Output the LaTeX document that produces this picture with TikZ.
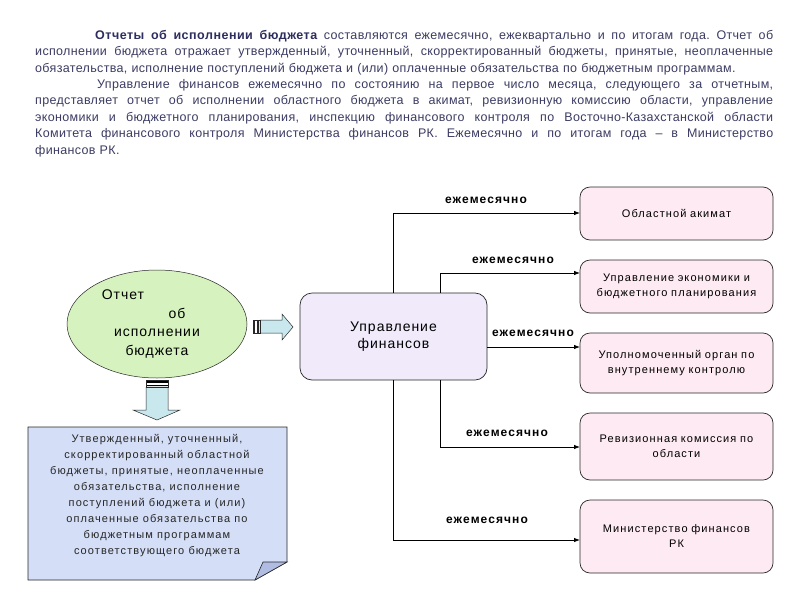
\documentclass[tikz,border=0pt]{standalone}
\usepackage{fontspec}
\setmainfont{Liberation Sans}
\newfontfamily\spfont[LetterSpace=2.7]{Liberation Sans}
\newfontfamily\spbold[LetterSpace=4]{Liberation Sans Bold}
\newfontfamily\boxfont[LetterSpace=10]{Liberation Sans}
\newfontfamily\midfont[LetterSpace=7]{Liberation Sans}
\newfontfamily\lblfont[LetterSpace=9]{Liberation Sans Bold}
\usetikzlibrary{arrows.meta,shapes.geometric}
\definecolor{txtcol}{RGB}{60,60,100}
\definecolor{boldcol}{RGB}{45,45,95}
\definecolor{pinkfill}{RGB}{253,234,242}
\definecolor{lavfill}{RGB}{240,234,250}
\definecolor{greenfill}{RGB}{214,242,190}
\definecolor{notefill}{RGB}{212,222,246}
\definecolor{foldfill}{RGB}{176,188,226}
\definecolor{arrowfill}{RGB}{200,232,238}
\definecolor{edgecol}{RGB}{40,40,40}
% justified line: words separated by stretchable glue
\def\jlA#1 #2\jlend{#1\if\relax\detokenize{#2}\relax\else\hskip 3.5pt plus 1fil\relax\jlA#2\jlend\fi}
\newcommand\jline[1]{\makebox[738pt][s]{\jlA#1 \jlend}}
\newcommand\bw[1]{{\spbold\color{boldcol}#1}}
\begin{document}
\begin{tikzpicture}[x=1pt,y=-1pt,
  toptext/.style={inner sep=0pt, text width=738pt, align=left, text=txtcol,
    font={\spfont\fontsize{12.5}{16.4}\selectfont}},
  rbox/.style={draw=edgecol, line width=0.7pt, rounded corners=10pt, fill=pinkfill,
    minimum width=193pt, text width=180pt, align=center, inner sep=0pt,
    font=\boxfont\fontsize{11}{15}\selectfont},
  finbox/.style={draw=edgecol, line width=0.7pt, rounded corners=12pt, fill=lavfill,
    minimum width=187pt, minimum height=87pt, align=center,
    font=\midfont\fontsize{14}{17}\selectfont},
  ovalnode/.style={ellipse, draw=edgecol, line width=0.5pt, fill=greenfill,
    minimum width=180pt, minimum height=108pt, inner sep=0pt, align=center,
    font=\midfont\fontsize{14}{18.5}\selectfont},
  conn/.style={draw=black, line width=0.8pt, -{Latex[length=6pt,width=4.5pt]}},
  freq/.style={font=\lblfont\fontsize{12}{14}\selectfont, inner sep=0pt},
  notetext/.style={inner sep=0pt, align=center, text=black!85,
    font=\boxfont\fontsize{11}{16}\selectfont},
  blockarrow/.style={draw=edgecol, line width=0.5pt, fill=arrowfill}
]
\useasboundingbox (0,0) rectangle (800,600);
\fill[white] (0,0) rectangle (800,600);

% intro text
\node[toptext, anchor=north west] (intro) at (35,30) {%
\jline{\hspace*{60pt}\bw{Отчеты} \bw{об} \bw{исполнении} \bw{бюджета} составляются ежемесячно, ежеквартально и по итогам года. Отчет об}\\
\jline{исполнении бюджета отражает утвержденный, уточненный, скорректированный бюджеты, принятые, неоплаченные}\\
обязательства, исполнение поступлений бюджета и (или) оплаченные обязательства по бюджетным программам.\\
\jline{\hspace*{62pt}Управление финансов ежемесячно по состоянию на первое число месяца, следующего за отчетным,}\\
\jline{представляет отчет об исполнении областного бюджета в акимат, ревизионную комиссию области, управление}\\
\jline{экономики и бюджетного планирования, инспекцию финансового контроля по Восточно-Казахстанской области}\\
\jline{Комитета финансового контроля Министерства финансов РК. Ежемесячно и по итогам года – в Министерство}\\
финансов РК.};

% ellipse
\node[ovalnode] (report) at (157,324) {Отчет\hspace*{68pt}\\\hspace*{40pt}об\\исполнении\\бюджета};

% finance box
\node[finbox] (fin) at (393.5,336.5) {Управление\\финансов};

% right boxes
\node[rbox, minimum height=53pt] (b1) at (676.5,213.5) {Областной акимат};
\node[rbox, minimum height=53pt] (b2) at (676.5,286.5) {Управление экономики и\\бюджетного планирования};
\node[rbox, minimum height=60pt] (b3) at (676.5,363) {Уполномоченный орган по\\внутреннему контролю};
\node[rbox, minimum height=67pt] (b4) at (676.5,446.5) {Ревизионная комиссия по\\области};
\node[rbox, minimum height=73pt] (b5) at (676.5,536.5) {Министерство финансов\\РК};

% connector anchor points
\coordinate (s1) at (393,293);
\coordinate (s2) at (440,293);
\coordinate (s3) at (487,347);
\coordinate (s4) at (440,380);
\coordinate (s5) at (393,380);
\coordinate (e1) at (580,213);
\coordinate (e2) at (580,273);
\coordinate (e3) at (580,347);
\coordinate (e4) at (580,447);
\coordinate (e5) at (580,540);

\draw[conn] (s1) |- (e1);
\draw[conn] (s2) |- (e2);
\draw[conn] (s3) -- (e3);
\draw[conn] (s4) |- (e4);
\draw[conn] (s5) |- (e5);

\node[freq] (f1) at (486,200) {ежемесячно};
\node[freq] (f2) at (513,260) {ежемесячно};
\node[freq] (f3) at (533,333) {ежемесячно};
\node[freq] (f4) at (507,433) {ежемесячно};
\node[freq] (f5) at (487,520) {ежемесячно};

% right block arrow
\draw[blockarrow] (260,320) -- (282,320) -- (282,314) -- (293,327) -- (282,340) -- (282,333) -- (260,333) -- cycle;
\fill[edgecol] (253,320) rectangle (255,333);
\fill[edgecol] (256.5,320) rectangle (258.5,333);
\draw[edgecol, line width=0.4pt] (253,320) rectangle (260,333);

% down block arrow
\draw[blockarrow] (146,387) -- (168,387) -- (168,410) -- (180,410) -- (157,420) -- (133,410) -- (146,410) -- cycle;
\fill[black] (146,380) rectangle (168,382.5);
\fill[black] (146,384.5) rectangle (168,386);
\draw[edgecol, line width=0.4pt] (146,380) rectangle (168,387);

% note box with folded corner
\draw[edgecol, line width=0.7pt, fill=notefill] (28,427) -- (287,427) -- (287,562) -- (255,580) -- (28,580) -- cycle;
\draw[edgecol, line width=0.6pt, fill=foldfill] (255,580) -- (263,562) -- (287,562) -- cycle;
\node[notetext] (note) at (157,496) {Утвержденный, уточненный,\\скорректированный областной\\бюджеты, принятые, неоплаченные\\обязательства, исполнение\\поступлений бюджета и (или)\\оплаченные обязательства по\\бюджетным программам\\соответствующего бюджета};
\end{tikzpicture}
\end{document}
